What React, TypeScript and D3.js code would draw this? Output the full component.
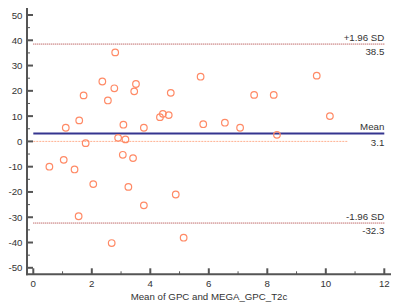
import React from "react";
import * as d3 from "d3";

const meanX: number[] = [2.80, 2.36, 2.77, 3.51, 3.45, 1.72, 2.55, 1.57, 1.11, 3.08, 3.78, 2.90, 3.15, 1.79,
  5.72, 4.70, 7.55, 8.22, 4.43, 4.33, 4.63, 5.81, 6.55, 7.07, 8.33, 9.69, 10.14,
  3.06, 3.41, 1.04, 0.55, 1.41, 2.05, 3.25, 3.78, 1.55, 2.68, 4.87, 5.14];
const diffY: number[] = [35.2, 23.7, 21.0, 22.7, 19.8, 18.2, 16.2, 8.3, 5.4, 6.6, 5.4, 1.4, 0.8, -0.7,
  25.6, 19.2, 18.4, 18.4, 10.9, 9.6, 10.4, 6.8, 7.4, 5.4, 2.6, 26.0, 10.0,
  -5.3, -6.6, -7.3, -10.0, -11.1, -16.9, -18.0, -25.3, -29.6, -40.2, -21.0, -38.1];

const meanDiff = 3.1;
const upperLoA = 38.5;
const lowerLoA = -32.3;
const zeroLineEnd = 10.75;

const xTicks = [0, 2, 4, 6, 8, 10, 12];
const xMinor = [1, 3, 5, 7, 9, 11];
const yTicks = [-50, -40, -30, -20, -10, 0, 10, 20, 30, 40, 50];
const yMinor = [-45, -35, -25, -15, -5, 5, 15, 25, 35, 45];

const xTitle = "Mean of GPC and MEGA_GPC_T2c";

export default function App() {
  const W = 400, H = 308;
  const x = d3.scaleLinear().domain([0, 12]).range([33.3, 384.3]);
  const y = d3.scaleLinear().domain([-50, 50]).range([267.8, 15]);
  const axisX = 27;
  const axisY = 274.3;
  const topY = 8;
  const rightX = 391;
  const font = "'Liberation Sans', Arial, sans-serif";
  const axisCol = "#555";
  const txt = "#333";
  const fs = 9.7;
  return (
    <svg width={W} height={H} style={{ position: "absolute", left: 0, top: 0, background: "#fff" }} fontFamily={font}>
      {/* zero line */}
      <line x1={x(0)} x2={x(zeroLineEnd)} y1={y(0)} y2={y(0)} stroke="#ffb090" strokeWidth={1} strokeDasharray="2,1" />
      {/* LoA lines */}
      <line x1={x(0)} x2={x(12)} y1={y(upperLoA)} y2={y(upperLoA)} stroke="#a83232" strokeWidth={1} strokeDasharray="1,1" />
      <line x1={x(0)} x2={x(12)} y1={y(lowerLoA)} y2={y(lowerLoA)} stroke="#a83232" strokeWidth={1} strokeDasharray="1,1" />
      <line x1={x(0)} x2={x(12)} y1={y(meanDiff)} y2={y(meanDiff)} stroke="#35358f" strokeWidth={2} />
      {/* labels */}
      <g fontSize={fs} fill={txt} textAnchor="end">
        <text x={x(12)} y={y(upperLoA) - 3}>+1.96 SD</text>
        <text x={x(12)} y={y(upperLoA) + 11}>{upperLoA.toFixed(1)}</text>
        <text x={x(12)} y={y(meanDiff) - 4}>Mean</text>
        <text x={x(12)} y={y(meanDiff) + 12}>{meanDiff.toFixed(1)}</text>
        <text x={x(12)} y={y(lowerLoA) - 3}>-1.96 SD</text>
        <text x={x(12)} y={y(lowerLoA) + 11}>{lowerLoA.toFixed(1)}</text>
      </g>
      {/* points */}
      {meanX.map((mx, i) => (
        <circle key={i} cx={x(mx)} cy={y(diffY[i])} r={3.3} fill="none" stroke="#ff8a66" strokeWidth={1.2} />
      ))}
      {/* axes */}
      <line x1={axisX} x2={axisX} y1={topY} y2={axisY + 1} stroke={axisCol} strokeWidth={2} />
      <line x1={axisX - 1} x2={rightX} y1={axisY} y2={axisY} stroke={axisCol} strokeWidth={2} />
      {yTicks.map((t) => (
        <g key={"yt" + t}>
          <line x1={axisX} x2={axisX + 6} y1={y(t)} y2={y(t)} stroke={axisCol} strokeWidth={2} />
          <text x={22.5} y={y(t) + 3.5} fontSize={fs} fill={txt} textAnchor="end">{t}</text>
        </g>
      ))}
      {yMinor.map((t) => (
        <line key={"ym" + t} x1={axisX} x2={axisX + 3} y1={y(t)} y2={y(t)} stroke={axisCol} strokeWidth={1} />
      ))}
      {xTicks.map((t) => (
        <g key={"xt" + t}>
          <line x1={x(t)} x2={x(t)} y1={axisY} y2={axisY - 6} stroke={axisCol} strokeWidth={2} />
          <text x={x(t)} y={axisY + 12.5} fontSize={fs} fill={txt} textAnchor="middle">{t}</text>
        </g>
      ))}
      {xMinor.map((t) => (
        <line key={"xm" + t} x1={x(t)} x2={x(t)} y1={axisY} y2={axisY - 3} stroke={axisCol} strokeWidth={1} />
      ))}
      <text x={(axisX + rightX) / 2} y={299.5} fontSize={fs} fill={txt} textAnchor="middle">{xTitle}</text>
    </svg>
  );
}
